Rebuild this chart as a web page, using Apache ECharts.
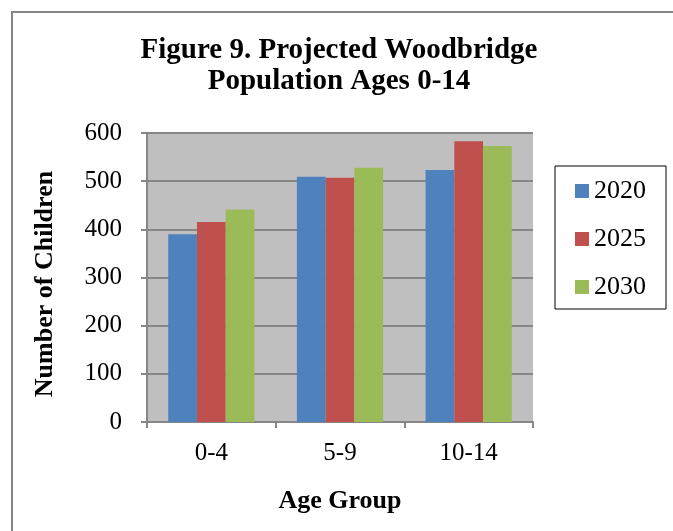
<!DOCTYPE html>
<html>
<head>
<meta charset="utf-8">
<script src="https://cdn.jsdelivr.net/npm/echarts@6/dist/echarts.min.js"></script>
<style>
  html, body { margin: 0; padding: 0; background: #fff; }
  #chart { width: 673px; height: 531px; }
</style>
</head>
<body>
<div id="chart"></div>
<script>
const ageGroups = ['0-4', '5-9', '10-14']
const years = ['2020', '2025', '2030']
const values2020 = [390, 509, 523]
const values2025 = [415, 507, 583]
const values2030 = [441, 528, 573]
const yTicks = [0, 100, 200, 300, 400, 500, 600]

const colors = ['#4F81BD', '#C0504D', '#9BBB59']
const font = 'Liberation Serif, Times New Roman, serif'

let chart = echarts.init(document.getElementById('chart'))

const option = {
  animation: false,
  textStyle: { fontFamily: font, color: '#000' },
  title: {
    text: 'Figure 9. Projected Woodbridge\nPopulation Ages 0-14',
    left: 339,
    textAlign: 'center',
    top: 35,
    padding: 0,
    textStyle: { fontFamily: font, fontSize: 29, fontWeight: 'bold', lineHeight: 31, color: '#000' }
  },
  graphic: [
    {
      type: 'rect',
      shape: { x: 12, y: 12, width: 700, height: 600 },
      style: { fill: 'none', stroke: '#878787', lineWidth: 2 },
      silent: true
    },
    // y axis title (sits a bit below the plot centre in the original)
    {
      type: 'text',
      x: 45,
      y: 284,
      rotation: Math.PI / 2,
      style: {
        text: 'Number of Children',
        font: 'bold 26px ' + font,
        fill: '#000',
        align: 'center',
        verticalAlign: 'middle'
      },
      silent: true
    }
  ],
  legend: {
    orient: 'vertical',
    left: 555,
    top: 166,
    padding: [12, 20, 9, 20],
    itemGap: 22,
    itemWidth: 14,
    itemHeight: 14,
    icon: 'rect',
    borderColor: '#000',
    borderWidth: 1,
    textStyle: { fontFamily: font, fontSize: 26, color: '#000' },
    data: years
  },
  grid: {
    left: 147,
    top: 133,
    right: 140,
    bottom: 109,
    show: true,
    backgroundColor: '#BFBFBF',
    borderWidth: 0
  },
  xAxis: {
    type: 'category',
    data: ageGroups,
    name: 'Age Group',
    nameLocation: 'middle',
    nameGap: 66,
    nameTextStyle: { fontFamily: font, fontSize: 26, fontWeight: 'bold', color: '#000' },
    axisLine: { lineStyle: { color: '#868686', width: 2 } },
    axisTick: { show: true, length: 6, lineStyle: { color: '#868686', width: 2 } },
    axisLabel: { fontFamily: font, fontSize: 25, color: '#000', margin: 19 }
  },
  yAxis: {
    type: 'value',
    min: yTicks[0],
    max: yTicks[yTicks.length - 1],
    interval: 100,
    axisLine: { show: true, lineStyle: { color: '#868686', width: 2 } },
    axisTick: { show: true, length: 6, lineStyle: { color: '#868686', width: 2 } },
    axisLabel: { fontFamily: font, fontSize: 25, color: '#000', margin: 25 },
    splitLine: { show: true, lineStyle: { color: '#868686', width: 2 } }
  },
  series: [
    { name: years[0], type: 'bar', data: values2020, itemStyle: { color: colors[0] }, barGap: '0%', barCategoryGap: '33%' },
    { name: years[1], type: 'bar', data: values2025, itemStyle: { color: colors[1] }, barGap: '0%', barCategoryGap: '33%' },
    { name: years[2], type: 'bar', data: values2030, itemStyle: { color: colors[2] }, barGap: '0%', barCategoryGap: '33%' }
  ]
}

chart.setOption(option)
</script>
</body>
</html>
